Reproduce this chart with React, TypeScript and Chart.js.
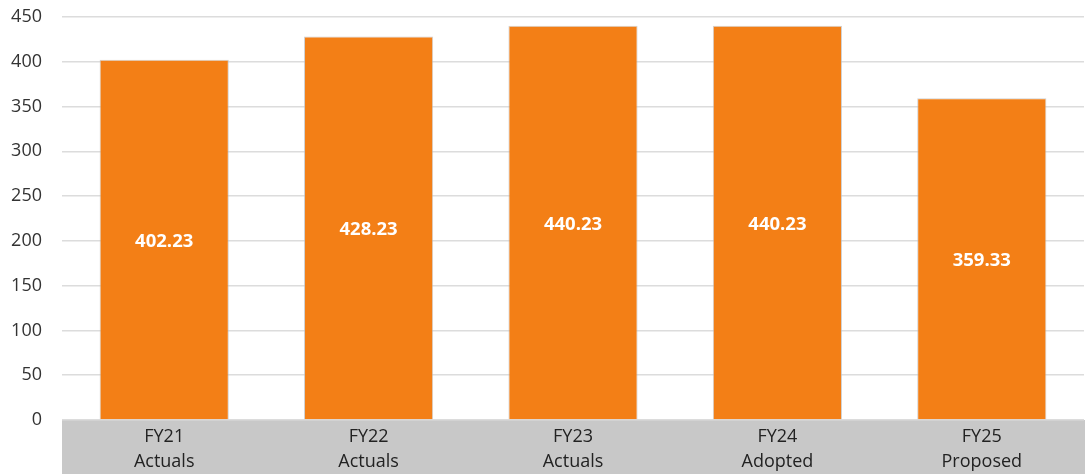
import React, { useEffect, useRef } from "react";
import { Chart, registerables } from "chart.js";

Chart.register(...registerables);

const categories: string[][] = [
  ["FY21", "Actuals"],
  ["FY22", "Actuals"],
  ["FY23", "Actuals"],
  ["FY24", "Adopted"],
  ["FY25", "Proposed"],
];
const values: number[] = [402.23, 428.23, 440.23, 440.23, 359.33];
const yTicks: number[] = [0, 50, 100, 150, 200, 250, 300, 350, 400, 450];

const FONT = "'Open Sans', 'Noto Sans', sans-serif";

const bgPlugin = {
  id: "axisBg",
  beforeDraw(chart: any) {
    const { ctx, chartArea, width, height } = chart;
    ctx.save();
    ctx.fillStyle = "#c8c8c8";
    ctx.fillRect(chartArea.left, chartArea.bottom, width - chartArea.left, height - chartArea.bottom);
    ctx.restore();
  },
  afterDraw(chart: any) {
    const { ctx, chartArea, scales } = chart;
    ctx.save();
    ctx.fillStyle = "#222";
    ctx.font = `18px ${FONT}`;
    ctx.textAlign = "center";
    ctx.textBaseline = "middle";
    categories.forEach((lines, i) => {
      const x = scales.x.getPixelForValue(i);
      lines.forEach((t, j) => {
        ctx.fillText(t, x, chartArea.bottom + 17 + j * 25);
      });
    });
    ctx.restore();
  },
};

const labelPlugin = {
  id: "valueLabels",
  afterDatasetsDraw(chart: any) {
    const { ctx } = chart;
    const meta = chart.getDatasetMeta(0);
    ctx.save();
    ctx.fillStyle = "#ffffff";
    ctx.font = `bold 18.5px ${FONT}`;
    ctx.textAlign = "center";
    ctx.textBaseline = "middle";
    meta.data.forEach((bar: any, i: number) => {
      const y = (bar.y + bar.base) / 2 + 2;
      ctx.fillText(values[i].toFixed(2), bar.x, y);
    });
    ctx.restore();
  },
};

export default function App() {
  const ref = useRef<HTMLCanvasElement>(null);
  useEffect(() => {
    document.body.style.margin = "0";
    const chart = new Chart(ref.current!, {
      type: "bar",
      data: {
        labels: categories.map((c) => c.join(" ")),
        datasets: [
          {
            data: values,
            backgroundColor: "#F37F16",
            borderColor: "rgba(190,190,190,0.7)",
            borderWidth: 1,
            categoryPercentage: 1,
            barPercentage: 0.632,
          },
        ],
      },
      options: {
        animation: false,
        responsive: false,
        maintainAspectRatio: false,
        layout: { padding: { top: 0, right: 1, left: 0, bottom: 0 } },
        plugins: { legend: { display: false }, tooltip: { enabled: false } },
        scales: {
          x: {
            grid: { display: false },
            border: { display: false },
            ticks: { display: false },
            afterFit(scale: any) {
              scale.height = 54;
            },
          },
          y: {
            min: 0,
            max: 450,
            afterBuildTicks(scale: any) {
              scale.ticks = yTicks.map((v) => ({ value: v }));
            },
            grid: { color: "#dcdcdc", drawTicks: false, lineWidth: 1.5 },
            border: { display: false },
            ticks: {
              color: "#333",
              font: { family: FONT, size: 18 },
              padding: 20,
            },
            afterFit(scale: any) {
              scale.width = 62;
              scale.paddingTop = 17;
              scale.paddingBottom = 0;
            },
          },
        },
      },
      plugins: [bgPlugin, labelPlugin],
    });
    return () => chart.destroy();
  }, []);
  return (
    <div style={{ position: "absolute", left: 0, top: 0, width: 1085, height: 474 }}>
      <canvas ref={ref} width={1085} height={474} style={{ display: "block" }} />
    </div>
  );
}
